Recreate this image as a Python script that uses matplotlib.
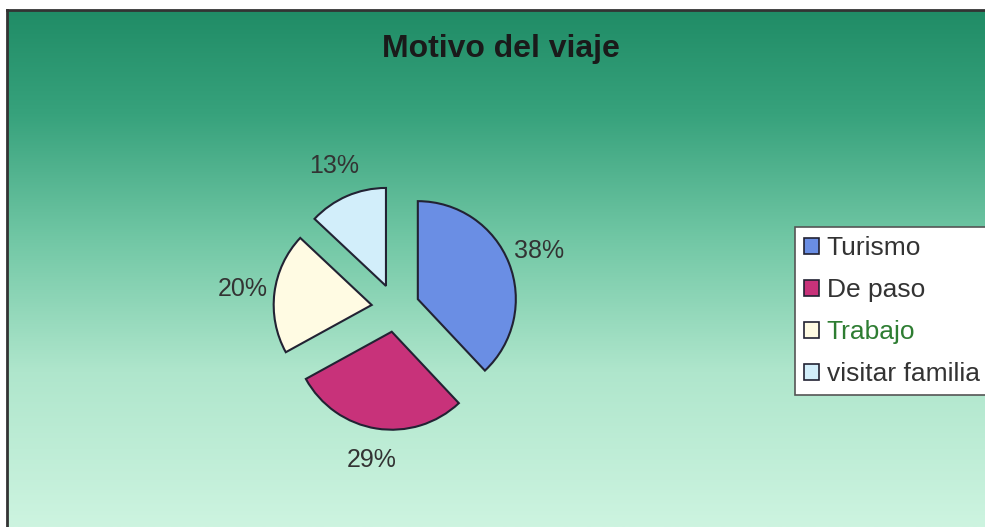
import numpy as np
import matplotlib
matplotlib.use("Agg")
import matplotlib.pyplot as plt
from matplotlib.patches import Patch
from matplotlib.colors import LinearSegmentedColormap

plt.rcParams['font.family'] = ['Liberation Sans', 'DejaVu Sans']

title = "Motivo del viaje"
categories = ["Turismo", "De paso", "Trabajo", "visitar familia"]
values = [38, 29, 20, 13]
colors = ["#6a8ee4", "#c8327a", "#fffbe3", "#d2eefa"]

W, H = 985, 527
fig = plt.figure(figsize=(W / 100, H / 100), dpi=100)
fig.patch.set_facecolor("white")

# background panel with vertical gradient
bg = fig.add_axes([7 / W, 0, (W - 7) / W, (H - 10) / H])
stops = [(0.0, (32/255, 140/255, 102/255)),
         (0.2, (55/255, 162/255, 124/255)),
         (0.45, (115/255, 200/255, 166/255)),
         (0.7, (175/255, 230/255, 204/255)),
         (1.0, (205/255, 244/255, 224/255))]
cmap = LinearSegmentedColormap.from_list("bg", stops)
grad = np.linspace(0, 1, 256).reshape(-1, 1)
bg.imshow(grad, aspect="auto", cmap=cmap, extent=[0, 1, 0, 1], origin="upper")
bg.set_xlim(0, 1)
bg.set_ylim(0, 1)
bg.set_xticks([])
bg.set_yticks([])
for s in ["right", "bottom"]:
    bg.spines[s].set_visible(False)
for s in ["top", "left"]:
    bg.spines[s].set_color("#333333")
    bg.spines[s].set_linewidth(2)

fig.text(501 / W, 1 - 49 / H, title, ha="center", va="center",
         fontsize=23, fontweight="bold", color="#1a1a1a")

# pie
cx, cy, r = 395.5, 308, 98
half = 210
ax = fig.add_axes([(cx - half) / W, (H - cy - half) / H, 2 * half / W, 2 * half / H])
wedges, texts, autotexts = ax.pie(
    values, colors=colors, startangle=90, counterclock=False,
    explode=[0.245] * len(values), radius=1,
    autopct="%1.0f%%", pctdistance=1.33,
    wedgeprops=dict(edgecolor="#222233", linewidth=1.5),
    textprops=dict(fontsize=18, color="#333333"))
ax.set_xlim(-half / r, half / r)
ax.set_ylim(-half / r, half / r)
ax.set_aspect("auto")
ax.axis("off")

handles = [Patch(facecolor=c, edgecolor="#222233", linewidth=1.2) for c in colors]
leg = fig.legend(handles, categories, loc="upper left",
                 bbox_to_anchor=(795 / W, 1 - 227 / H),
                 fontsize=19, frameon=True, fancybox=False, framealpha=1,
                 handlelength=0.55, handleheight=0.55, handletextpad=0.3,
                 labelspacing=0.68, borderpad=0.35, borderaxespad=0)
leg.get_frame().set_edgecolor("#555555")
leg.get_frame().set_facecolor("white")
leg.get_frame().set_linewidth(1.2)
for t in leg.get_texts():
    t.set_color("#333333")
leg.get_texts()[2].set_color("#2e7d32")

fig.savefig("out.png", dpi=100)
